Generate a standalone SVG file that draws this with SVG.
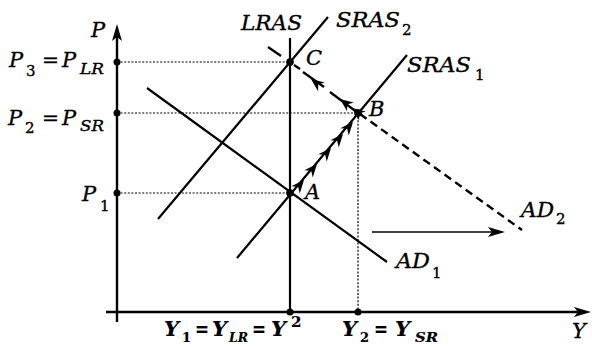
<svg xmlns="http://www.w3.org/2000/svg" width="592" height="347" viewBox="0 0 592 347">
<style>
.ax{stroke:#000;stroke-width:2.4;fill:none}
.ln{stroke:#000;stroke-width:2.2;fill:none;stroke-linecap:butt}
.dash{stroke:#000;stroke-width:2.4;fill:none;stroke-dasharray:8,5}
.dot{stroke:#000;stroke-width:1.2;fill:none;stroke-dasharray:2,1.6}
text{font-family:"DejaVu Serif","Liberation Serif",serif;fill:#000;stroke:#000;stroke-width:0.35}
.t{font-style:italic;font-size:21px}
.s{font-style:italic;font-size:15px}
.n{font-style:normal;font-size:15px}
.eq{font-style:normal;font-size:21px}
.b{font-weight:bold;stroke-width:0.2}
.bs{font-size:13px}
</style>
<defs>
<polygon id="ah" points="0,0 -13,-5.5 -9,0 -13,5.5" fill="#000"/>
</defs>
<rect width="592" height="347" fill="#fff"/>
<g id="axes">
<line class="ax" x1="117" y1="322" x2="117" y2="32"/>
<polygon points="117,24 112,41 117,37 122,41" fill="#000"/>
<line class="ax" x1="106" y1="312" x2="582" y2="312"/>
<polygon points="591,312 574,307 578,312 574,317" fill="#000"/>
</g>
<g id="guides">
<line class="dot" x1="117" y1="62" x2="290" y2="62"/>
<line class="dot" x1="117" y1="113" x2="358" y2="113"/>
<line class="dot" x1="117" y1="193" x2="290" y2="193"/>
<line class="dot" x1="358" y1="113" x2="358" y2="312"/>
</g>
<g id="connectors">
<line id="LRAS" class="ln" x1="290" y1="38" x2="290" y2="312"/>
<line id="SRAS2" class="ln" x1="158" y1="219" x2="328" y2="17"/>
<line id="SRAS1" class="ln" x1="237" y1="258" x2="407" y2="55"/>
<line id="AD1" class="ln" x1="147" y1="88" x2="387" y2="262"/>
<line id="AD2a" class="ln" x1="268" y1="47" x2="281" y2="56"/>
<line id="AD2b" class="ln" x1="294" y1="65" x2="300" y2="69"/>
<line id="AD2c" class="dash" x1="360" y1="114" x2="522" y2="230"/>
<line id="BC1" class="ln" x1="358" y1="113" x2="330" y2="92"/>
<line id="BC2" class="ln" x1="324" y1="87" x2="303" y2="72"/>
<use href="#ah" transform="translate(352,108) rotate(216.9)"/>
<use href="#ah" transform="translate(340,99) rotate(216.9)"/>
<use href="#ah" transform="translate(311,79) rotate(216.9)"/>
<use href="#ah" transform="translate(304,180) rotate(-49.6)"/>
<use href="#ah" transform="translate(317,164) rotate(-49.6)"/>
<use href="#ah" transform="translate(331,148) rotate(-49.6)"/>
<use href="#ah" transform="translate(343,134) rotate(-49.6)"/>
<use href="#ah" transform="translate(353,122) rotate(-49.6)"/>
<line id="shift" stroke="#000" stroke-width="1.6" x1="372" y1="232" x2="496" y2="232"/>
<polygon points="505,232 488,227 492,232 488,237" fill="#000"/>
</g>
<g id="points" fill="#000">
<circle cx="117" cy="62" r="3.5"/>
<circle cx="117" cy="113" r="3.5"/>
<circle cx="117" cy="193" r="3.5"/>
<circle id="C" cx="290" cy="62" r="3.8"/>
<circle id="B" cx="358" cy="113" r="3.8"/>
<circle id="A" cx="290" cy="193" r="3.8"/>
<circle cx="290" cy="312" r="3.5"/>
<circle cx="358" cy="312" r="3.5"/>
</g>
<g id="labels">
<text class="t" x="91" y="37">P</text>
<text class="t" x="9" y="67">P</text><text class="n" x="26" y="76">3</text><text class="eq" x="42" y="67" textLength="17" lengthAdjust="spacingAndGlyphs">=</text><text class="t" x="62" y="67">P</text><text class="s" x="80" y="74" textLength="24" lengthAdjust="spacingAndGlyphs">LR</text>
<text class="t" x="8" y="125">P</text><text class="n" x="25" y="133">2</text><text class="eq" x="42" y="125" textLength="17" lengthAdjust="spacingAndGlyphs">=</text><text class="t" x="62" y="125">P</text><text class="s" x="80" y="131" textLength="24" lengthAdjust="spacingAndGlyphs">SR</text>
<text class="t" x="82" y="201">P</text><text class="n" x="100" y="211">1</text>
<text class="t" x="241" y="30" textLength="61" lengthAdjust="spacingAndGlyphs">LRAS</text>
<text class="t" x="336" y="27" textLength="64" lengthAdjust="spacingAndGlyphs">SRAS</text><text class="n" x="402" y="35">2</text>
<text class="t" x="407" y="72" textLength="64" lengthAdjust="spacingAndGlyphs">SRAS</text><text class="n" x="475" y="80">1</text>
<text class="t" x="306" y="65">C</text>
<text class="t" x="369" y="116">B</text>
<text class="t" x="305" y="199">A</text>
<text class="t" x="521" y="217" textLength="33" lengthAdjust="spacingAndGlyphs">AD</text><text class="n" x="556" y="224">2</text>
<text class="t" x="396" y="268" textLength="34" lengthAdjust="spacingAndGlyphs">AD</text><text class="n" x="432" y="278">1</text>
<text class="t" x="572" y="338">Y</text>
<text class="t b" x="164" y="336">Y</text><text class="n b bs" x="182" y="342">1</text><text class="eq b" x="195" y="336" textLength="14" lengthAdjust="spacingAndGlyphs">=</text><text class="t b" x="212" y="336">Y</text><text class="s b bs" x="229" y="342" textLength="19" lengthAdjust="spacingAndGlyphs">LR</text><text class="eq b" x="252" y="336" textLength="14" lengthAdjust="spacingAndGlyphs">=</text><text class="t b" x="271" y="336">Y</text><text class="n b" x="291" y="327">2</text>
<text class="t b" x="342" y="336">Y</text><text class="n b bs" x="360" y="342">2</text><text class="eq b" x="374" y="336" textLength="14" lengthAdjust="spacingAndGlyphs">=</text><text class="t b" x="395" y="336">Y</text><text class="s b bs" x="415" y="342" textLength="23" lengthAdjust="spacingAndGlyphs">SR</text>
</g>
</svg>
